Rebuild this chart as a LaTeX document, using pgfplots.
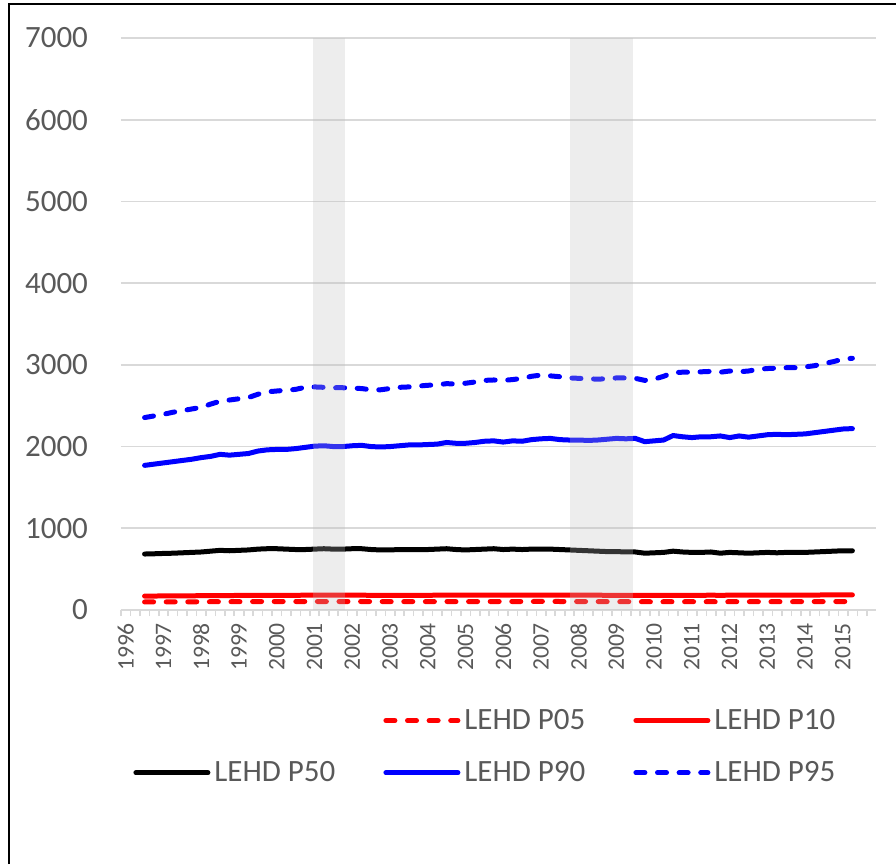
\documentclass[border=0pt]{standalone}
\usepackage{fontspec}
\setmainfont{Carlito}
\usepackage{pgfplots}
\usepackage{pgfplotstable}
\pgfplotsset{compat=1.18}
\definecolor{txt}{HTML}{595959}
\definecolor{gridc}{HTML}{D9D9D9}
\definecolor{recess}{gray}{0.74}
\definecolor{lred}{HTML}{FF0000}
\definecolor{lblue}{HTML}{0000FF}

% quarterly LEHD earnings percentiles
\pgfplotstableread{
yr      p05 p10 p50 p90  p95
1996.50 98  170 685 1770 2355
1996.75 99  171 688 1785 2375
1997.00 99  172 692 1800 2395
1997.25 100 172 695 1815 2420
1997.50 100 173 700 1830 2440
1997.75 100 174 705 1845 2460
1998.00 101 175 710 1865 2480
1998.25 101 176 720 1880 2520
1998.50 102 177 730 1905 2555
1998.75 102 177 725 1895 2570
1999.00 102 178 730 1905 2585
1999.25 103 178 735 1915 2600
1999.50 103 179 745 1945 2640
1999.75 104 180 750 1960 2670
2000.00 104 180 750 1965 2680
2000.25 104 180 745 1965 2690
2000.50 104 180 740 1975 2700
2000.75 104 181 740 1990 2725
2001.00 104 181 745 2005 2730
2001.25 104 181 750 2010 2725
2001.50 104 181 745 2000 2720
2001.75 104 181 745 2000 2720
2002.00 104 181 750 2010 2715
2002.25 104 181 750 2015 2710
2002.50 103 180 740 2000 2695
2002.75 103 180 735 1995 2695
2003.00 103 180 735 2000 2710
2003.25 103 180 740 2010 2725
2003.50 103 180 740 2020 2730
2003.75 103 180 740 2020 2740
2004.00 103 180 740 2025 2750
2004.25 103 181 745 2030 2755
2004.50 104 181 750 2050 2770
2004.75 103 181 740 2040 2765
2005.00 103 181 735 2040 2775
2005.25 103 181 740 2050 2790
2005.50 104 182 745 2065 2810
2005.75 104 182 750 2070 2815
2006.00 104 182 740 2055 2810
2006.25 104 182 745 2070 2820
2006.50 104 182 740 2065 2835
2006.75 104 183 745 2085 2860
2007.00 105 183 745 2095 2875
2007.25 105 183 745 2100 2865
2007.50 104 183 740 2085 2855
2007.75 104 182 735 2080 2840
2008.00 104 182 730 2080 2835
2008.25 103 181 725 2075 2830
2008.50 103 181 720 2080 2825
2008.75 103 180 715 2090 2830
2009.00 102 180 715 2100 2840
2009.25 102 179 710 2095 2840
2009.50 102 179 710 2100 2835
2009.75 101 178 695 2060 2810
2010.00 101 178 700 2070 2825
2010.25 101 179 705 2080 2860
2010.50 102 180 720 2135 2905
2010.75 102 180 710 2120 2910
2011.00 102 180 705 2110 2910
2011.25 102 180 705 2120 2915
2011.50 102 181 710 2120 2920
2011.75 101 180 695 2130 2910
2012.00 102 181 705 2110 2925
2012.25 102 181 700 2130 2915
2012.50 102 181 695 2115 2925
2012.75 102 181 700 2130 2945
2013.00 102 182 705 2145 2955
2013.25 102 182 700 2150 2960
2013.50 102 182 705 2145 2965
2013.75 102 182 705 2150 2965
2014.00 103 183 705 2155 2975
2014.25 103 183 710 2170 2990
2014.50 103 184 715 2185 3015
2014.75 104 184 720 2200 3040
2015.00 104 185 725 2215 3070
2015.25 104 185 725 2220 3080
}\lehd

\begin{document}
\begin{tikzpicture}
\useasboundingbox (0pt,0pt) rectangle (448pt,432pt);
\draw[line width=1.3pt] (4.5pt,0pt) -- (4.5pt,430pt) -- (448pt,430pt);
\begin{axis}[
  at={(60.5pt,127pt)}, anchor=south west,
  width=377.5pt, height=286pt, scale only axis,
  xmin=1995.875, xmax=2015.875, ymin=0, ymax=7000,
  axis line style={draw=none},
  ytick={0,1000,...,7000},
  ymajorgrids, grid style={gridc, line width=0.8pt},
  ytick style={draw=none},
  xtick={1996,...,2015},
  xtick pos=left,
  major x tick style={draw=none},
  minor xtick={1995.875,1996.125,...,2015.9},
  minor x tick style={gridc, line width=0.8pt},
  minor tick length=3pt, major tick length=3pt,
  tick align=outside,
  xticklabel style={rotate=90, anchor=east, font=\fontsize{11.8}{13}\selectfont, text=txt},
  yticklabel style={font=\fontsize{15.5}{17}\selectfont, text=txt, xshift=-10pt},
  /pgf/number format/assume math mode=true,
  /pgf/number format/1000 sep={},
  legend columns=3,
  legend style={at={(0.484,-0.239)}, anchor=center, draw=none, fill=none,
    font=\fontsize{15.5}{17}\selectfont, text=txt, row sep=10.5pt,
    /tikz/every even column/.append style={column sep=22pt}},
  legend image code/.code={\draw[#1] (0pt,0pt) -- (36pt,0pt);},
  every axis plot/.append style={line width=2.5pt, line cap=round, line join=round},
]
\addlegendimage{empty legend}
\addlegendentry{}
\addplot[lred, dash pattern=on 4.5pt off 6.3pt] table[x=yr, y=p05] {\lehd};
\addlegendentry{LEHD P05}
\addplot[lred] table[x=yr, y=p10] {\lehd};
\addlegendentry{LEHD P10}
\addplot[black] table[x=yr, y=p50] {\lehd};
\addlegendentry{LEHD P50}
\addplot[lblue] table[x=yr, y=p90] {\lehd};
\addlegendentry{LEHD P90}
\addplot[lblue, dash pattern=on 4.5pt off 6.3pt] table[x=yr, y=p95] {\lehd};
\addlegendentry{LEHD P95}
% recession shading, drawn over the lines as in the source
\addplot[fill=recess, fill opacity=0.27, draw=none, forget plot]
  coordinates {(2000.97,7000) (2001.82,7000)} \closedcycle;
\addplot[fill=recess, fill opacity=0.27, draw=none, forget plot]
  coordinates {(2007.76,7000) (2009.44,7000)} \closedcycle;
\end{axis}
\end{tikzpicture}
\end{document}
